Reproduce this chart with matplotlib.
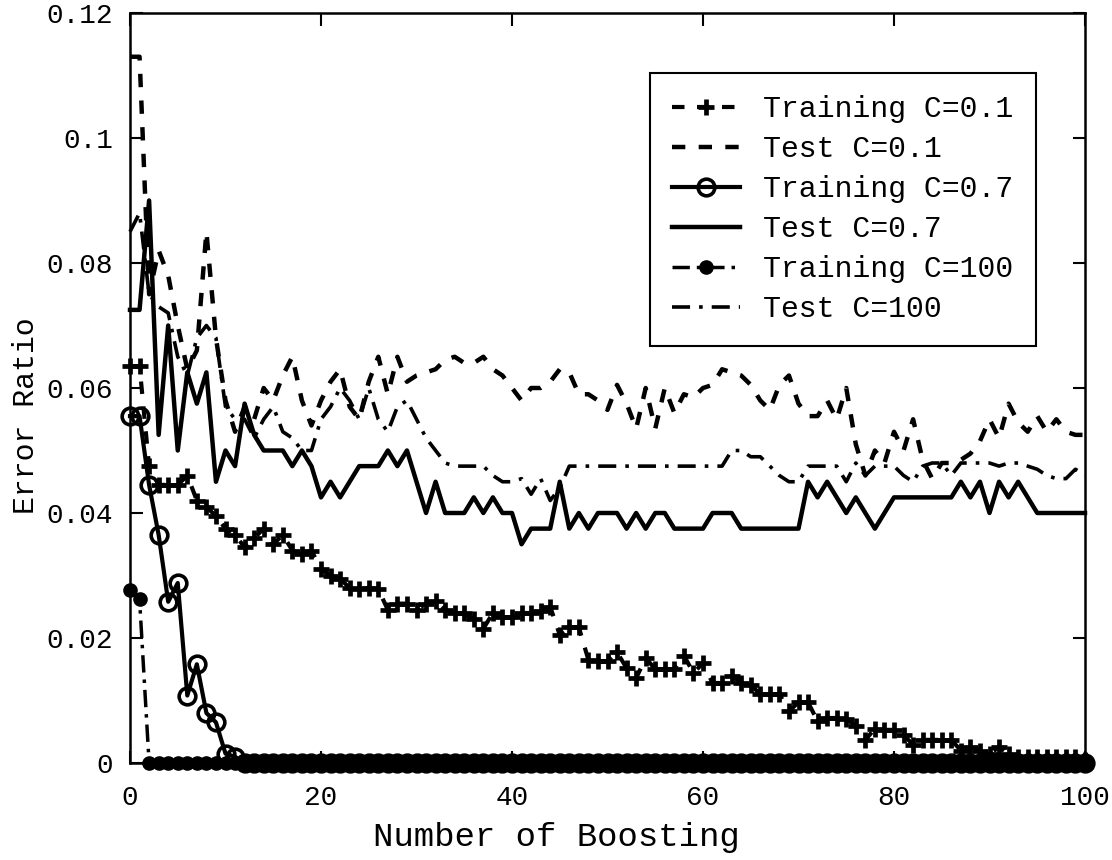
import matplotlib
matplotlib.use("Agg")
import matplotlib.pyplot as plt
import numpy as np

plt.rcParams['font.family'] = ['Liberation Mono', 'DejaVu Sans Mono']

x = list(range(0, 101))

train_c01 = [0.0635, 0.0635, 0.0475, 0.0445, 0.0445, 0.0445, 0.046, 0.042, 0.041, 0.0395,
             0.0375, 0.0365, 0.0345, 0.036, 0.0375, 0.035, 0.0365, 0.034, 0.0335, 0.034,
             0.031, 0.030, 0.0295, 0.028, 0.0278, 0.028, 0.0278, 0.0245, 0.0255, 0.0255,
             0.0245, 0.0255, 0.026, 0.0245, 0.024, 0.024, 0.023, 0.0215, 0.024, 0.0233,
             0.0233, 0.024, 0.024, 0.0244, 0.025, 0.0205, 0.0217, 0.0217, 0.0165, 0.0163,
             0.0163, 0.0177, 0.0152, 0.0136, 0.0168, 0.015, 0.015, 0.015, 0.0172, 0.0144,
             0.016, 0.0128, 0.0128, 0.014, 0.0128, 0.0125, 0.011, 0.011, 0.011, 0.0083,
             0.0097, 0.0097, 0.0067, 0.0072, 0.0072, 0.007, 0.006, 0.0037, 0.0055, 0.0053,
             0.0053, 0.0045, 0.0029, 0.0037, 0.0037, 0.0037, 0.0037, 0.002, 0.0025, 0.002,
             0.0015, 0.0025, 0.0015, 0.001, 0.001, 0.001, 0.001, 0.001, 0.001, 0.001,
             0.0005]

test_c01 = [0.113, 0.113, 0.075, 0.082, 0.078, 0.07, 0.063, 0.066, 0.085, 0.068,
            0.058, 0.053, 0.057, 0.055, 0.06, 0.058, 0.062, 0.065, 0.058, 0.054,
            0.058, 0.061, 0.063, 0.057, 0.055, 0.061, 0.065, 0.059, 0.065, 0.061,
            0.062, 0.0625, 0.063, 0.0645, 0.065, 0.064, 0.064, 0.065, 0.063, 0.062,
            0.06, 0.058, 0.06, 0.06, 0.061, 0.063, 0.0625, 0.059, 0.059, 0.058,
            0.0565, 0.0605, 0.0575, 0.0535, 0.06, 0.0535, 0.06, 0.056, 0.059, 0.0585,
            0.06, 0.0605, 0.063, 0.0625, 0.062, 0.0605, 0.058, 0.0565, 0.0605, 0.062,
            0.0575, 0.0555, 0.0555, 0.058, 0.055, 0.06, 0.051, 0.046, 0.05, 0.048,
            0.053, 0.05, 0.055, 0.0485, 0.0455, 0.048, 0.048, 0.0485, 0.0495, 0.0515,
            0.055, 0.052, 0.0575, 0.0545, 0.053, 0.0555, 0.053, 0.055, 0.053, 0.0525,
            0.0525]

train_c07 = [0.0555, 0.0555, 0.0445, 0.0365, 0.0258, 0.0288, 0.0108, 0.0158, 0.008, 0.0065,
             0.0015, 0.001] + [0.0] * 89

test_c07 = [0.0725, 0.0725, 0.09, 0.0525, 0.07, 0.05, 0.0625, 0.0575, 0.0625, 0.045,
            0.05, 0.0475, 0.0575, 0.0525, 0.05, 0.05, 0.05, 0.0475, 0.05, 0.0475,
            0.0425, 0.045, 0.0425, 0.045, 0.0475, 0.0475, 0.0475, 0.05, 0.0475, 0.05,
            0.045, 0.04, 0.045, 0.04, 0.04, 0.04, 0.0425, 0.04, 0.0425, 0.04,
            0.04, 0.035, 0.0375, 0.0375, 0.0375, 0.045, 0.0375, 0.04, 0.0375, 0.04,
            0.04, 0.04, 0.0375, 0.04, 0.0375, 0.04, 0.04, 0.0375, 0.0375, 0.0375,
            0.0375, 0.04, 0.04, 0.04, 0.0375, 0.0375, 0.0375, 0.0375, 0.0375, 0.0375,
            0.0375, 0.045, 0.0425, 0.045, 0.0425, 0.04, 0.0425, 0.04, 0.0375, 0.04,
            0.0425, 0.0425, 0.0425, 0.0425, 0.0425, 0.0425, 0.0425, 0.045, 0.0425, 0.045,
            0.04, 0.045, 0.0425, 0.045, 0.0425, 0.04, 0.04, 0.04, 0.04, 0.04,
            0.04]

train_c100 = [0.0277, 0.0262] + [0.0] * 99

test_c100 = [0.085, 0.088, 0.075, 0.073, 0.072, 0.065, 0.062, 0.068, 0.07, 0.068,
             0.057, 0.055, 0.055, 0.052, 0.055, 0.057, 0.053, 0.052, 0.05, 0.05,
             0.055, 0.057, 0.06, 0.058, 0.055, 0.06, 0.055, 0.053, 0.057, 0.058,
             0.055, 0.052, 0.05, 0.048, 0.0475, 0.0475, 0.0475, 0.0475, 0.046, 0.045,
             0.045, 0.0455, 0.043, 0.0455, 0.042, 0.044, 0.0475, 0.0475, 0.0475, 0.0475,
             0.0475, 0.0475, 0.0475, 0.0475, 0.0475, 0.0475, 0.0475, 0.0475, 0.0475, 0.0475,
             0.0475, 0.0475, 0.0475, 0.05, 0.05, 0.049, 0.049, 0.0475, 0.046, 0.045,
             0.045, 0.0475, 0.0475, 0.0475, 0.0475, 0.045, 0.048, 0.046, 0.0475, 0.0475,
             0.0475, 0.046, 0.045, 0.0475, 0.048, 0.048, 0.046, 0.048, 0.048, 0.048,
             0.048, 0.0475, 0.048, 0.048, 0.0475, 0.047, 0.046, 0.0455, 0.0455, 0.047,
             0.046]

labels = ["Training C=0.1", "Test C=0.1", "Training C=0.7", "Test C=0.7",
          "Training C=100", "Test C=100"]

xticks = [0, 20, 40, 60, 80, 100]
yticks = [0, 0.02, 0.04, 0.06, 0.08, 0.10, 0.12]
yticklabels = ["0", "0.02", "0.04", "0.06", "0.08", "0.1", "0.12"]

fig = plt.figure(figsize=(11.12, 8.6), dpi=100)
ax = fig.add_axes([130/1112, 97/860, 955/1112, 750/860])

ax.plot(x, train_c01, color='black', linestyle=(0, (3, 3)), linewidth=3,
        marker='+', markersize=11, markeredgewidth=3.4, label=labels[0], clip_on=False)
ax.plot(x, test_c01, color='black', linestyle=(0, (3, 3)), linewidth=3.2,
        label=labels[1], clip_on=False)
ax.plot(x, train_c07, color='black', linestyle='-', linewidth=3,
        marker='o', markersize=12, markeredgewidth=2.6, markerfacecolor='none',
        label=labels[2], clip_on=False)
ax.plot(x, test_c07, color='black', linestyle='-', linewidth=3.2,
        label=labels[3], clip_on=False)
ax.plot(x, train_c100, color='black', linestyle=(0, (5, 2, 1, 2)), linewidth=2.5,
        marker='o', markersize=9.5, markerfacecolor='black', label=labels[4], clip_on=False)
ax.plot(x, test_c100, color='black', linestyle=(0, (5, 2.5, 1, 2.5)), linewidth=2.6,
        label=labels[5], clip_on=False)

ax.set_xlim(0, 100)
ax.set_ylim(0, 0.12)
ax.set_xticks(xticks)
ax.set_yticks(yticks)
ax.set_yticklabels(yticklabels)
ax.tick_params(direction='in', length=9, width=1.5, top=True, right=True,
               labelsize=20)
ax.tick_params(axis='y', pad=12)
ax.tick_params(axis='x', pad=16)
for s in ax.spines.values():
    s.set_linewidth(1.8)

ax.set_xlabel("Number of Boosting", fontsize=24.5)
ax.xaxis.set_label_coords((556 - 130) / 955, (763 - 822) / 750)
ax.set_ylabel("Error Ratio", fontsize=21.5)
ax.yaxis.set_label_coords((40 - 130) / 955, (763 - 416) / 750)

leg = ax.legend(loc='upper left', bbox_to_anchor=((650 - 130) / 955, (763 - 73) / 750),
                borderaxespad=0, fontsize=21.5, handlelength=2.25, labelspacing=0.4,
                fancybox=False, framealpha=1, edgecolor='black', borderpad=0.75,
                handletextpad=0.8)
leg.get_frame().set_linewidth(1.5)

fig.savefig("out.png", dpi=100)
